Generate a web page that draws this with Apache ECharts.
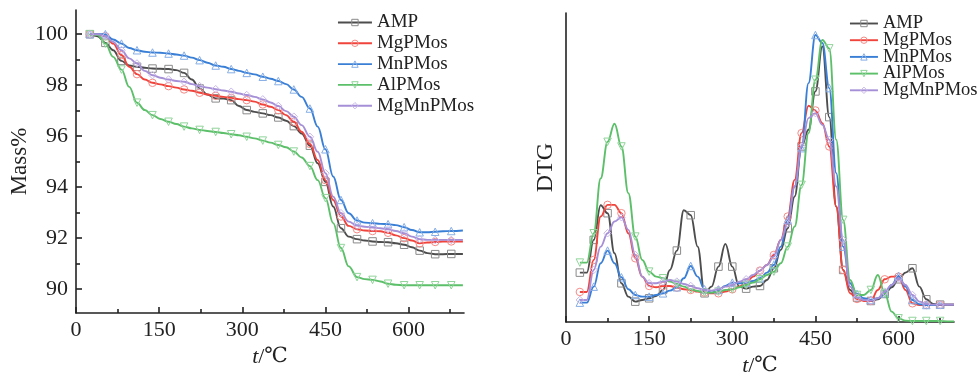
<!DOCTYPE html>
<html><head><meta charset="utf-8">
<script src="https://cdn.jsdelivr.net/npm/echarts@6/dist/echarts.min.js"></script>
<style>html,body{margin:0;padding:0;background:#fff}#c{width:979px;height:378px}</style>
</head><body><div id="c"></div>
<script>
// ---------- DATA ----------
const names = ['AMP', 'MgPMos', 'MnPMos', 'AlPMos', 'MgMnPMos'];

// TGA (left panel) temperatures (°C)
const tgaT = [25,39,53,67,82,96,110,124,138,152,167,181,195,209,223,237,252,266,280,294,308,322,337,351,365,379,393,407,422,436,450,464,478,492,507,521,535,549,563,577,592,606,620,634,648,662,677,698];
const tgaAMP = [100.0,99.92,99.66,99.37,98.95,98.77,98.72,98.68,98.65,98.64,98.63,98.59,98.48,98.22,97.87,97.63,97.48,97.47,97.41,97.18,97.02,96.95,96.89,96.82,96.73,96.6,96.39,96.1,95.62,94.93,94.2,93.23,92.38,92.05,91.95,91.9,91.86,91.84,91.83,91.79,91.73,91.63,91.5,91.4,91.36,91.36,91.37,91.37];
const tgaMg = [100.0,99.99,99.92,99.63,99.18,98.72,98.43,98.22,98.09,98.03,97.96,97.9,97.83,97.78,97.7,97.63,97.58,97.54,97.5,97.45,97.41,97.35,97.24,97.15,97.02,96.82,96.56,96.17,95.69,95.06,94.27,93.49,92.84,92.47,92.34,92.29,92.27,92.26,92.2,92.1,91.99,91.9,91.79,91.82,91.84,91.86,91.86,91.86];
const tgaMn = [100.0,100.0,100.0,99.79,99.63,99.46,99.37,99.31,99.28,99.27,99.24,99.2,99.16,99.08,98.98,98.88,98.77,98.72,98.63,98.56,98.48,98.42,98.33,98.25,98.16,98.04,97.83,97.54,97.08,96.37,95.48,94.41,93.49,92.97,92.68,92.6,92.58,92.55,92.54,92.5,92.42,92.31,92.22,92.22,92.24,92.26,92.27,92.29];
const tgaAl = [100.0,99.97,99.63,99.11,98.61,97.93,97.31,97.02,96.82,96.67,96.56,96.47,96.37,96.3,96.24,96.2,96.16,96.12,96.07,96.03,95.97,95.91,95.82,95.74,95.65,95.56,95.39,95.16,94.82,94.27,93.56,92.58,91.6,90.88,90.46,90.38,90.35,90.29,90.2,90.16,90.14,90.14,90.14,90.14,90.14,90.14,90.14,90.14];
const tgaMgMn = [100.0,100.0,99.92,99.7,99.37,99.05,98.85,98.56,98.39,98.29,98.22,98.16,98.13,98.04,97.96,97.9,97.84,97.79,97.74,97.67,97.61,97.54,97.44,97.32,97.18,96.98,96.76,96.43,95.97,95.38,94.54,93.62,92.97,92.64,92.48,92.44,92.41,92.38,92.34,92.27,92.18,92.05,91.95,91.92,91.92,91.92,91.92,91.92];

// DTG (right panel) temperatures (°C), values in arbitrary units (axis unlabeled)
const dtgT = [25,37.5,50,62.5,75,87.5,100,112.5,125,137.5,150,162.5,175,187.5,200,212.5,225,237.5,250,262.5,275,287.5,300,312.5,325,337.5,350,362.5,375,387.5,400,412.5,425,437.5,450,462.5,475,487.5,500,512.5,525,537.5,550,562.5,575,587.5,600,612.5,625,637.5,650,662.5,675,687.5,700];
const dtgAMP = [148,148,246,350,326,206,116,76,61,66,71,78,96,156,214,335,320,226,86,106,166,234,166,106,100,106,108,126,161,216,281,376,526,576,691,826,614,346,156,96,73,66,63,68,84,104,128,148,161,106,68,54,52,52,52];
const dtgMg = [90,90,186,316,351,351,326,266,191,136,108,104,108,108,103,98,96,91,88,86,86,91,98,106,118,136,154,171,201,246,316,426,566,648,634,596,526,346,156,86,69,63,63,96,128,136,136,96,56,51,51,51,51,52,52];
const dtgMn = [58,58,106,176,214,176,134,98,81,76,76,81,86,94,104,131,168,136,98,88,96,108,118,116,118,123,131,148,171,226,306,406,521,716,860,836,701,446,226,116,84,71,66,71,86,111,138,106,66,53,51,51,52,52,52];
const dtgAl = [178,178,266,430,540,594,526,386,256,186,151,136,131,121,114,106,98,93,88,88,91,96,98,104,111,118,128,141,151,176,226,286,411,566,726,845,820,546,306,126,81,81,96,141,86,31,11,4,3,3,3,3,3,2,2];
const dtgMgMn = [66,66,156,226,266,301,314,276,201,136,116,116,121,126,121,114,108,101,96,94,98,106,111,121,128,141,154,171,196,246,296,406,526,611,626,591,546,406,246,106,73,66,64,71,91,111,131,111,81,61,54,52,52,52,52];

// Axis ticks
const xMajor = [0, 150, 300, 450, 600];
const xMinor = [75, 225, 375, 525, 675];
const yMajor = [90, 92, 94, 96, 98, 100];
const yMinor = [91, 93, 95, 97, 99];

// ---------- STYLE ----------
const lineColors = ['#4d4d4d', '#f0433b', '#3a7fd6', '#5cbf69', '#a58fd6'];
const markColors = ['#8a8a8a', '#f58a86', '#86aee6', '#91d49b', '#c9b8ea'];
const symbols = ['rect', 'circle', 'triangle', 'triangle', 'diamond'];
const rotates = [0, 0, 0, 180, 0];
const FONT = "'Liberation Serif', 'Times New Roman', serif";
const INK = '#222';

const tgaSets = [tgaAMP, tgaMg, tgaMn, tgaAl, tgaMgMn];
const dtgSets = [dtgAMP, dtgMg, dtgMn, dtgAl, dtgMgMn];

function build(ts, vs) {
  return ts.map((t, i) => (i % 2 === 0 && i < ts.length - 1)
    ? [t, vs[i]]
    : { value: [t, vs[i]], symbol: 'none' });
}

function mkSeries(k, xi, yi, vals, ts) {
  return {
    type: 'line', name: names[k], xAxisIndex: xi, yAxisIndex: yi,
    data: build(ts, vals),
    smooth: 0.4, smoothMonotone: 'x',
    symbol: symbols[k], symbolRotate: rotates[k], symbolSize: 7.5,
    showAllSymbol: true,
    lineStyle: { color: lineColors[k], width: 1.9 },
    itemStyle: { color: 'rgba(255,255,255,0)', borderColor: markColors[k], borderWidth: 1 },
    emphasis: { disabled: true },
    z: 2 + k
  };
}

const series = [];
names.forEach((n, k) => series.push(mkSeries(k, 0, 0, tgaSets[k], tgaT)));
names.forEach((n, k) => series.push(mkSeries(k, 2, 2, dtgSets[k], dtgT)));

const axisLine = { show: true, lineStyle: { color: INK, width: 1.6 } };
const nameStyle = {
  fontFamily: FONT, fontSize: 22, color: INK,
  rich: {
    i: { fontFamily: FONT, fontStyle: 'italic', fontSize: 22, color: INK },
    c: { fontFamily: "'DejaVu Serif', 'Liberation Serif', serif", fontSize: 21, color: INK }
  }
};

function xMain(gi) {
  return {
    type: 'value', gridIndex: gi, position: 'bottom', min: 0, max: 700,
    axisLine: axisLine,
    axisTick: { show: true, inside: true, length: 6, customValues: xMajor, lineStyle: { color: INK, width: 1.6 } },
    axisLabel: { show: true, customValues: xMajor, fontFamily: FONT, fontSize: 22, color: INK, margin: 6 },
    splitLine: { show: false },
    name: '{i|t}/{c|℃}', nameLocation: 'middle', nameGap: 33, nameTextStyle: nameStyle
  };
}
function xMinorAx(gi) {
  return {
    type: 'value', gridIndex: gi, position: 'bottom', min: 0, max: 700,
    axisLine: { show: false },
    axisTick: { show: true, inside: true, length: 4, customValues: xMinor, lineStyle: { color: INK, width: 1.6 } },
    axisLabel: { show: false }, splitLine: { show: false }
  };
}

function legendData() {
  return names.map((n, k) => ({
    name: n,
    itemStyle: { color: 'rgba(255,255,255,0)', borderColor: markColors[k], borderWidth: 1 },
    lineStyle: { color: lineColors[k], width: 1.9 }
  }));
}

const option = {
  animation: false,
  backgroundColor: '#fff',
  grid: [
    { left: 76, top: 10, width: 388, height: 303, outerBoundsMode: 'none' },
    { left: 566, top: 13, width: 388, height: 309, outerBoundsMode: 'none' }
  ],
  xAxis: [xMain(0), xMinorAx(0), xMain(1), xMinorAx(1)],
  yAxis: [
    {
      type: 'value', gridIndex: 0, position: 'left', min: 89.05, max: 100.95,
      axisLine: axisLine,
      axisTick: { show: true, inside: true, length: 6, customValues: yMajor, lineStyle: { color: INK, width: 1.6 } },
      axisLabel: { show: true, customValues: yMajor, fontFamily: FONT, fontSize: 22, color: INK, margin: 8 },
      splitLine: { show: false },
      name: 'Mass%', nameLocation: 'middle', nameGap: 42,
      nameTextStyle: { fontFamily: FONT, fontSize: 23, color: INK }
    },
    {
      type: 'value', gridIndex: 0, position: 'left', min: 89.05, max: 100.95,
      axisLine: { show: false },
      axisTick: { show: true, inside: true, length: 4, customValues: yMinor, lineStyle: { color: INK, width: 1.6 } },
      axisLabel: { show: false }, splitLine: { show: false }
    },
    {
      type: 'value', gridIndex: 1, position: 'left', min: 0, max: 926,
      axisLine: axisLine,
      axisTick: { show: false }, axisLabel: { show: false }, splitLine: { show: false },
      name: 'DTG', nameLocation: 'middle', nameGap: 8,
      nameTextStyle: { fontFamily: FONT, fontSize: 24, color: INK }
    }
  ],
  legend: [
    {
      orient: 'vertical', selectedMode: false, padding: 0,
      left: 337, top: 13, itemWidth: 34, itemHeight: 8, itemGap: 1.8,
      textStyle: { fontFamily: FONT, fontSize: 19, color: INK, lineHeight: 18 },
      data: legendData()
    },
    {
      orient: 'vertical', selectedMode: false, padding: 0,
      left: 849, top: 14, itemWidth: 28, itemHeight: 8, itemGap: -2.3,
      textStyle: { fontFamily: FONT, fontSize: 18.5, color: INK, lineHeight: 16.5 },
      data: legendData()
    }
  ],
  series: series
};

const chart = echarts.init(document.getElementById('c'), null, { renderer: 'canvas' });
chart.setOption(option);
</script></body></html>
